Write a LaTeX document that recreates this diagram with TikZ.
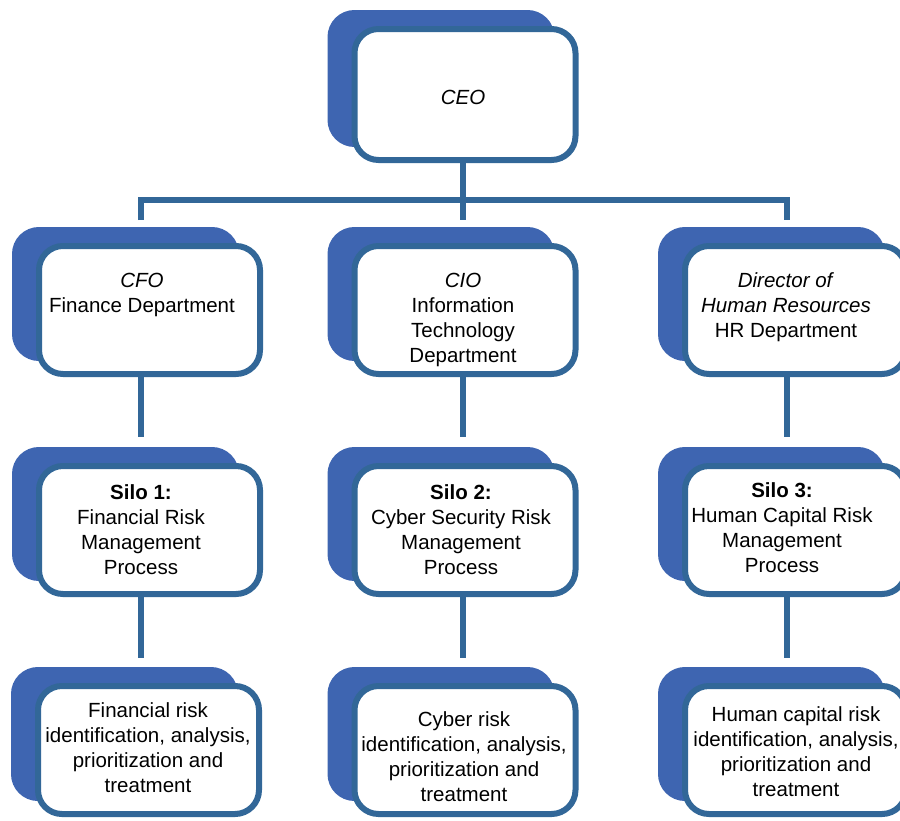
\documentclass[tikz,border=0pt]{standalone}
\usepackage{fontspec}
\setmainfont{Liberation Sans}
\usetikzlibrary{shadows,calc}

\definecolor{backblue}{RGB}{62,101,177}
\definecolor{edgeblue}{RGB}{50,103,152}

\tikzset{
  orgbox/.style={draw=edgeblue, line width=6pt, fill=white,
    rounded corners=24pt, inner sep=0pt,
    minimum width=221pt, minimum height=128pt,
    general shadow={fill=backblue, draw=backblue, line width=6pt,
      shadow xshift=-24pt, shadow yshift=16pt}},
  orgtext/.style={align=center, inner sep=0pt,
    font=\fontsize{20.5}{25}\selectfont},
  conn/.style={draw=edgeblue, line width=6.5pt, line join=miter}
}

\begin{document}
\begin{tikzpicture}[x=1pt, y=-1pt]
\useasboundingbox (0,0) rectangle (900,820);
\clip (0,0) rectangle (900,820);

% boxes
\node[orgbox, minimum height=131pt] (ceo) at (465,94.5) {};
\node[orgbox] (cfo) at (149.5,310) {};
\node[orgbox] (cio) at (465,310) {};
\node[orgbox] (dhr) at (795.5,310) {};
\node[orgbox] (silo1) at (149.5,530) {};
\node[orgbox] (silo2) at (465,530) {};
\node[orgbox] (silo3) at (795.5,530) {};
\node[orgbox] (risk1) at (148.5,750) {};
\node[orgbox] (risk2) at (465,750) {};
\node[orgbox] (risk3) at (795.5,750) {};

% texts
\node[orgtext] (ceo-t) at (463,97) {\textit{CEO}};
\node[orgtext] (cfo-t) at (142,294.5) {\textit{CFO}\\Finance Department};
\node[orgtext] (cio-t) at (463,319.5) {\textit{CIO}\\Information\\Technology\\Department};
\node[orgtext] (dhr-t) at (786,307) {\textit{Director of}\\\textit{Human Resources}\\HR Department};
\node[orgtext] (silo1-t) at (141,529.5) {\textbf{Silo 1:}\\Financial Risk\\Management\\Process};
\node[orgtext] (silo2-t) at (461,529.5) {\textbf{Silo 2:}\\Cyber Security Risk\\Management\\Process};
\node[orgtext] (silo3-t) at (782,527.5) {\textbf{Silo 3:}\\Human Capital Risk\\Management\\Process};
\node[orgtext] (risk1-t) at (148,747.5) {Financial risk\\identification, analysis,\\prioritization and\\treatment};
\node[orgtext] (risk2-t) at (464,756.5) {Cyber risk\\identification, analysis,\\prioritization and\\treatment};
\node[orgtext] (risk3-t) at (796,751.5) {Human capital risk\\identification, analysis,\\prioritization and\\treatment};

% column lines of the connectors
\coordinate (colA) at (141,0);
\coordinate (colB) at (463,0);
\coordinate (colC) at (787,0);
\coordinate (bus) at (0,200);

% CEO to the three departments
\draw[conn] (colB |- ceo.south) -- ($(colB |- cio.north)+(0,-23)$);
\draw[conn] ($(colA |- cfo.north)+(0,-23)$) -- (colA |- bus) -- (colC |- bus)
  -- ($(colC |- dhr.north)+(0,-23)$);

% departments to silos
\draw[conn] (colA |- cfo.south) -- ($(colA |- silo1.north)+(0,-26)$);
\draw[conn] (colB |- cio.south) -- ($(colB |- silo2.north)+(0,-26)$);
\draw[conn] (colC |- dhr.south) -- ($(colC |- silo3.north)+(0,-26)$);

% silos to risk activities
\draw[conn] (colA |- silo1.south) -- ($(colA |- risk1.north)+(0,-25)$);
\draw[conn] (colB |- silo2.south) -- ($(colB |- risk2.north)+(0,-25)$);
\draw[conn] (colC |- silo3.south) -- ($(colC |- risk3.north)+(0,-25)$);
\end{tikzpicture}
\end{document}
